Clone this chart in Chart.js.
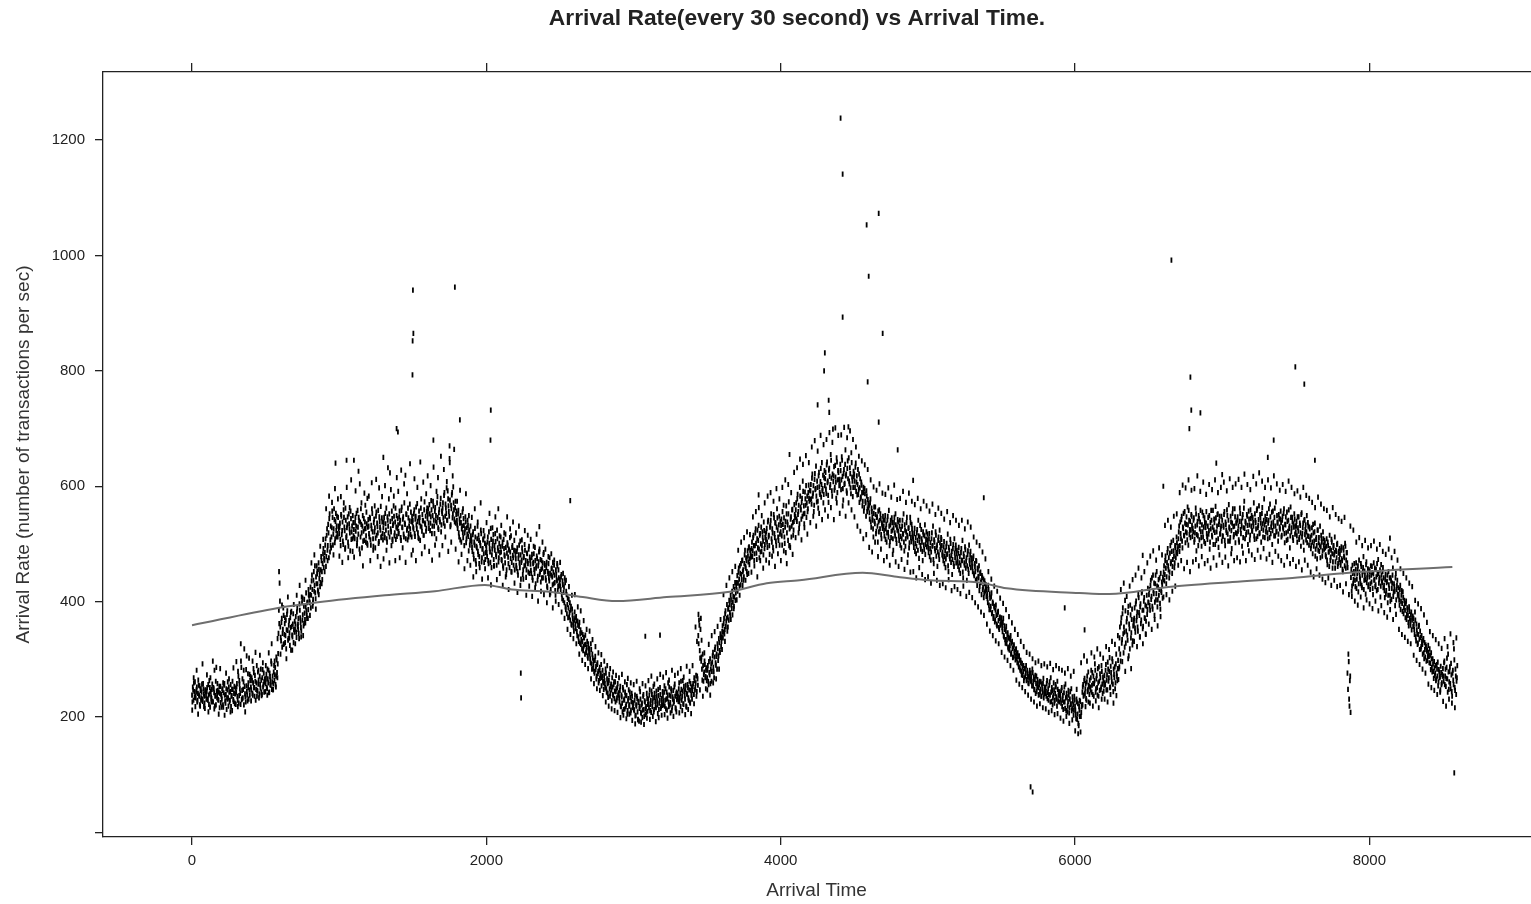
<!DOCTYPE html>
<html>
<head>
<meta charset="utf-8">
<script src="https://cdn.jsdelivr.net/npm/chart.js@4.4.1/dist/chart.umd.min.js"></script>
<style>
html,body{margin:0;padding:0;background:#fff;overflow:hidden}
#wrap{width:1536px;height:904px;position:relative}
canvas{display:block}
</style>
</head>
<body>
<div id="wrap"><canvas id="c"></canvas></div>
<script>
const chartTitle = 'Arrival Rate(every 30 second) vs Arrival Time.';
const xAxisTitle = 'Arrival Time';
const yAxisTitle = 'Arrival Rate (number of transactions per sec)';
const xTickValues = [0, 2000, 4000, 6000, 8000];
const yTickValues = [0, 200, 400, 600, 800, 1000, 1200];

// arrival rate samples, one every 5 time units (20 per row = 100 time units)
const sampleStep = 5;
const ratesStartA = 0;    // first series of samples starts at time 0
const ratesStartB = 2.5;  // second series of samples starts at time 2.5
const arrivalRatesA = [
/*0*/ 238,252,229,244,261,233,247,226,241,255,236,219,249,243,231,258,240,224,246,237,
/*100*/ 245,231,256,222,240,268,235,248,227,251,242,219,237,286,233,246,229,253,241,225,
/*200*/ 236,249,221,242,258,228,239,213,247,233,252,226,244,218,237,262,230,241,224,250,
/*300*/ 243,258,229,271,237,249,222,286,246,233,261,318,240,226,254,238,275,231,247,263,
/*400*/ 252,268,241,259,277,236,262,248,289,245,257,233,271,250,264,239,282,256,243,266,
/*500*/ 258,274,249,266,281,243,270,255,292,261,247,278,263,286,252,299,268,310,385,432,
/*600*/ 356,332,371,345,389,327,362,341,318,378,350,336,367,324,355,383,342,361,329,347,
/*700*/ 352,374,338,389,361,345,396,372,355,408,368,341,392,380,363,415,376,399,386,410,
/*800*/ 398,425,411,446,392,437,418,462,405,431,448,420,467,440,426,455,471,438,483,459,
/*900*/ 472,498,461,515,489,534,476,552,507,493,528,546,517,561,502,539,523,548,512,531,
/*1000*/ 518,536,497,548,523,505,559,529,491,541,514,533,503,552,526,488,544,521,509,537,
/*1100*/ 525,509,546,531,497,558,517,540,604,512,534,493,549,522,506,538,527,555,501,529,
/*1200*/ 531,512,544,498,526,553,509,537,521,493,548,515,530,558,504,539,524,511,545,518,
/*1300*/ 528,546,511,535,562,503,541,519,552,623,526,497,544,532,566,514,538,508,549,527,
/*1400*/ 533,518,557,541,506,564,528,547,512,536,619,552,524,507,545,531,569,516,539,548,
/*1500*/ 541,526,559,513,548,533,570,519,545,537,506,562,529,551,540,515,573,534,522,556,
/*1600*/ 544,561,527,552,536,575,518,549,566,531,557,540,509,571,546,525,560,538,579,533,
/*1700*/ 553,571,536,589,548,562,597,541,578,556,648,530,567,585,545,599,559,538,574,551,
/*1800*/ 541,527,558,512,536,549,503,531,520,544,497,526,538,509,517,532,488,522,506,514,
/*1900*/ 503,487,521,474,498,512,465,493,531,482,506,459,497,518,476,492,509,468,501,485,
/*2000*/ 494,478,512,466,501,486,527,459,491,505,473,497,518,482,463,509,488,476,514,495,
/*2100*/ 486,471,503,458,492,479,517,447,484,498,466,489,511,475,452,494,480,463,506,488,
/*2200*/ 474,458,493,446,481,467,505,439,472,486,455,478,499,463,442,484,470,451,496,477,
/*2300*/ 465,449,482,437,468,456,494,431,462,475,444,469,487,452,434,471,458,441,485,466,
/*2400*/ 452,437,468,424,449,441,476,415,446,458,429,451,463,433,411,447,436,419,455,428,
/*2500*/ 438,421,447,405,429,416,398,433,386,412,395,372,404,381,368,392,359,377,364,349,
/*2600*/ 382,361,374,348,366,339,357,328,351,334,318,343,322,337,309,326,315,331,302,319,
/*2700*/ 318,301,327,292,309,284,298,276,305,288,271,294,279,263,286,272,291,268,281,259,
/*2800*/ 272,258,283,249,266,241,259,274,236,253,247,268,239,256,232,261,244,229,251,238,
/*2900*/ 241,226,253,218,235,209,247,229,214,238,222,256,211,232,219,243,207,227,236,216,
/*3000*/ 224,211,238,203,219,232,196,227,215,244,208,221,199,236,213,228,204,218,241,210,
/*3100*/ 231,216,247,222,208,239,226,253,213,234,219,245,228,206,237,224,251,215,232,220,
/*3200*/ 236,221,254,229,214,243,232,259,218,238,225,249,211,235,246,227,257,216,240,230,
/*3300*/ 241,227,259,233,218,248,236,263,222,244,231,255,217,239,251,229,262,224,246,252,
/*3400*/ 246,258,239,263,251,272,244,266,341,368,315,352,297,283,309,262,278,291,270,285,
/*3500*/ 268,289,256,277,301,283,262,295,312,278,304,321,290,309,327,298,336,315,344,322,
/*3600*/ 339,358,347,371,352,384,366,395,373,389,402,381,411,394,418,399,426,408,433,415,
/*3700*/ 421,445,432,458,427,449,466,438,472,455,443,481,461,476,452,488,469,495,474,483,
/*3800*/ 479,503,488,515,471,497,526,484,509,493,532,476,518,500,487,521,505,538,492,511,
/*3900*/ 508,527,494,541,515,482,533,552,503,519,488,545,511,536,497,561,524,506,548,517,
/*4000*/ 521,543,498,534,567,512,529,485,552,538,506,573,526,494,547,531,560,515,539,551,
/*4100*/ 548,571,539,586,556,527,598,564,543,579,609,552,535,590,567,546,583,561,602,574,
/*4200*/ 577,603,569,621,588,556,612,594,635,573,598,562,624,589,608,581,641,596,571,615,
/*4300*/ 601,624,587,642,609,572,631,598,655,614,583,699,618,593,636,607,649,589,627,611,
/*4400*/ 612,638,594,651,617,576,629,605,663,621,588,644,703,609,632,597,658,616,582,626,
/*4500*/ 621,598,640,607,585,629,594,572,613,581,602,566,589,557,596,574,548,583,561,570,
/*4600*/ 567,543,578,529,556,541,512,564,535,551,522,547,503,538,559,526,544,509,533,548,
/*4700*/ 531,514,549,526,503,541,520,558,497,533,511,545,524,489,537,519,552,508,529,542,
/*4800*/ 522,506,541,513,493,531,518,552,488,524,509,537,515,481,528,502,546,511,534,519,
/*4900*/ 509,494,527,501,483,519,506,541,475,512,497,525,503,471,516,490,533,499,521,507,
/*5000*/ 501,485,518,492,472,509,496,531,466,503,488,515,494,461,506,481,524,490,511,497,
/*5100*/ 486,471,504,478,459,495,482,517,452,489,474,501,480,447,492,466,509,476,498,483,
/*5200*/ 476,461,494,467,449,485,472,506,441,478,463,490,470,437,482,456,498,465,487,473,
/*5300*/ 468,452,479,445,461,437,470,428,455,441,419,449,433,412,442,425,407,436,418,429,
/*5400*/ 421,405,428,394,413,386,408,379,399,371,392,365,385,376,358,381,367,352,373,361,
/*5500*/ 372,355,364,341,358,334,349,327,343,321,338,316,333,309,328,319,304,325,312,299,
/*5600*/ 318,301,311,292,306,285,298,279,293,272,289,268,284,276,263,281,270,258,274,266,
/*5700*/ 276,261,283,254,269,247,272,258,244,265,251,239,262,248,236,257,243,267,240,252,
/*5800*/ 251,236,263,242,229,255,238,268,227,246,233,259,224,241,252,231,262,228,244,237,
/*5900*/ 239,224,251,229,213,242,226,257,211,235,219,246,207,231,222,249,214,228,203,236,
/*6000*/ 219,204,231,196,223,185,212,227,201,218,243,256,238,267,249,232,261,244,278,253,
/*6100*/ 264,247,281,255,239,271,258,292,243,266,251,284,236,262,275,248,289,257,269,245,
/*6200*/ 272,256,291,264,247,283,268,303,252,277,261,296,244,274,287,259,309,271,284,265,
/*6300*/ 318,356,297,372,334,389,311,347,402,328,365,342,381,306,353,394,337,369,325,358,
/*6400*/ 362,389,347,401,374,356,412,381,339,396,368,417,353,385,407,371,344,392,378,423,
/*6500*/ 398,421,385,437,409,392,446,414,376,431,403,452,391,425,411,441,387,419,434,406,
/*6600*/ 438,462,447,479,431,468,492,455,441,484,466,503,449,473,488,459,497,476,512,483,
/*6700*/ 496,521,487,538,509,548,493,527,515,556,502,534,519,564,498,541,525,511,551,532,
/*6800*/ 527,541,503,519,562,488,533,514,549,507,538,521,496,555,512,529,545,501,536,518,
/*6900*/ 508,546,523,491,537,558,515,529,499,543,520,565,506,531,552,494,539,517,527,548,
/*7000*/ 541,513,529,556,497,534,520,549,505,568,526,511,538,492,553,530,516,561,502,536,
/*7100*/ 518,547,531,503,562,525,539,496,551,528,574,509,536,520,548,499,557,533,515,544,
/*7200*/ 549,522,537,571,508,541,526,558,513,532,566,519,545,503,553,535,524,578,511,539,
/*7300*/ 528,553,509,541,525,569,518,536,499,557,531,546,514,573,522,538,505,551,529,543,
/*7400*/ 537,515,548,526,561,502,533,519,555,508,541,527,493,564,521,546,511,535,552,517,
/*7500*/ 521,539,503,528,547,511,532,496,554,518,536,489,542,525,507,549,514,531,498,526,
/*7600*/ 512,497,528,483,519,505,536,491,511,474,524,502,487,531,495,509,479,521,498,506,
/*7700*/ 493,478,509,464,497,486,515,471,489,503,458,494,481,512,469,487,499,461,484,473,
/*7800*/ 482,463,495,471,452,489,476,501,458,485,467,248,296,219,271,442,418,463,431,452,
/*7900*/ 448,426,467,439,455,417,472,443,431,461,424,452,478,437,446,413,469,441,457,429,
/*8000*/ 443,421,462,434,450,412,467,438,426,456,419,447,473,432,441,408,464,436,452,424,
/*8100*/ 428,407,447,419,435,398,452,423,411,441,404,432,458,417,426,393,449,421,437,410,
/*8200*/ 412,394,428,401,419,383,407,389,396,372,401,378,386,364,391,371,359,382,368,375,
/*8300*/ 371,352,382,339,361,344,328,357,335,349,318,341,326,333,311,329,304,322,314,298,
/*8400*/ 324,305,318,293,311,286,301,279,296,272,289,266,283,295,261,278,270,288,256,274,
/*8500*/ 284,262,297,271,253,286,266,309,248,279,258,293,244,276,264,318,251,283,239,268
];

const arrivalRatesB = [
/*2.5*/ 226,247,259,234,218,243,252,229,264,238,221,246,233,257,227,249,236,215,244,231,
/*102*/ 251,229,238,263,217,244,232,257,226,249,281,236,221,245,258,230,243,216,253,239,
/*202*/ 231,246,217,255,238,224,249,233,261,219,243,229,256,236,211,248,227,253,240,222,
/*302*/ 252,236,279,224,257,241,297,230,266,248,221,253,235,282,244,228,259,302,238,270,
/*402*/ 247,263,238,284,251,272,229,259,246,278,264,240,256,283,237,268,252,276,261,244,
/*502*/ 266,251,283,259,242,276,264,297,248,271,258,289,273,256,304,277,292,345,362,401,
/*602*/ 338,364,321,352,376,343,329,368,351,384,333,359,346,372,316,357,339,379,352,366,
/*702*/ 361,347,382,357,371,336,385,364,349,398,377,358,404,369,391,384,398,371,412,401,
/*802*/ 412,389,436,421,404,452,428,415,443,462,431,417,456,447,433,478,452,466,492,475,
/*902*/ 485,509,478,526,497,519,544,486,531,512,557,498,526,542,509,553,531,518,546,527,
/*1002*/ 529,508,551,516,538,499,546,523,562,511,528,547,496,535,519,557,508,531,549,514,
/*1102*/ 511,537,522,553,508,529,546,491,538,561,519,531,505,544,526,567,514,535,498,542,
/*1202*/ 518,546,507,532,561,521,496,543,528,510,555,536,519,501,547,529,565,513,538,507,
/*1302*/ 537,516,553,524,509,547,531,578,512,539,521,557,505,535,548,519,562,529,513,544,
/*1402*/ 522,547,536,511,558,529,543,517,571,534,509,551,527,562,518,540,526,555,512,537,
/*1502*/ 529,552,518,543,564,526,539,511,557,546,531,578,522,541,515,559,536,548,527,562,
/*1602*/ 552,536,568,523,547,559,531,574,541,518,563,549,537,582,528,554,542,569,521,557,
/*1702*/ 562,545,584,531,569,553,541,592,566,548,576,533,561,589,552,571,543,563,536,557,
/*1802*/ 533,552,519,543,507,537,526,555,511,532,519,547,502,528,541,513,524,498,531,509,
/*1902*/ 494,516,482,503,527,471,496,509,487,515,478,502,524,469,491,507,483,514,473,498,
/*2002*/ 485,503,471,521,492,468,508,481,497,516,462,489,504,478,524,493,469,501,485,512,
/*2102*/ 473,496,462,508,481,467,494,455,502,477,491,459,486,514,468,497,476,489,455,481,
/*2202*/ 463,487,452,475,498,459,481,468,493,447,476,462,489,471,455,483,466,491,449,472,
/*2302*/ 454,476,442,466,483,449,471,458,479,437,462,486,447,473,456,441,467,482,451,463,
/*2402*/ 441,459,427,452,466,436,449,421,457,443,468,431,446,419,455,438,462,426,441,433,
/*2502*/ 427,443,412,436,402,425,441,391,418,379,406,389,373,398,385,361,387,371,356,368,
/*2602*/ 372,353,367,341,359,331,364,344,326,346,331,315,338,325,342,312,321,306,327,311,
/*2702*/ 309,294,317,283,302,291,279,298,282,266,291,275,259,281,267,276,254,271,262,248,
/*2802*/ 263,251,276,243,258,234,264,249,241,257,228,252,237,261,245,226,249,233,258,242,
/*2902*/ 233,246,219,238,224,251,213,231,243,218,237,205,228,247,221,234,212,241,225,219,
/*3002*/ 213,229,202,221,236,209,225,193,218,231,206,224,212,239,201,226,215,207,232,222,
/*3102*/ 223,238,211,229,245,218,233,209,241,227,216,236,221,248,213,229,239,218,226,244,
/*3202*/ 228,243,219,249,231,212,238,226,252,221,236,245,217,231,224,252,236,214,243,233,
/*3302*/ 235,249,226,241,262,229,245,223,253,237,247,219,241,256,233,247,226,258,238,231,
/*3402*/ 253,239,268,247,259,236,271,255,327,359,302,371,333,264,289,274,297,268,281,263,
/*3502*/ 281,262,296,273,258,292,279,306,286,268,317,294,305,283,319,306,329,312,338,331,
/*3602*/ 348,337,362,344,379,357,371,349,387,368,395,376,403,388,377,409,392,421,402,428,
/*3702*/ 433,418,451,439,462,429,447,471,452,437,466,489,458,471,447,479,493,464,489,477,
/*3802*/ 492,478,511,497,483,519,501,473,524,506,491,515,486,529,497,512,481,523,499,518,
/*3902*/ 521,503,538,512,497,529,541,509,526,494,551,518,537,505,529,545,512,533,498,539,
/*4002*/ 532,514,556,523,545,501,539,566,519,533,552,497,528,543,512,559,537,524,568,546,
/*4102*/ 559,543,578,551,567,535,583,559,572,548,591,566,553,578,601,571,556,589,579,593,
/*4202*/ 592,578,614,583,601,567,622,596,583,609,574,618,599,586,631,603,592,619,586,627,
/*4302*/ 613,595,637,606,584,628,617,603,645,592,621,608,634,598,616,579,642,611,624,601,
/*4402*/ 603,627,611,645,596,622,603,638,618,592,631,613,649,604,622,587,641,609,598,617,
/*4502*/ 609,633,591,618,603,586,621,597,578,607,589,574,598,563,587,571,592,556,577,563,
/*4602*/ 554,571,538,562,547,526,553,539,564,518,546,531,557,521,541,552,516,536,527,541,
/*4702*/ 523,541,508,534,519,548,512,531,504,541,522,537,509,528,546,514,533,501,524,538,
/*4802*/ 514,531,498,525,509,541,517,503,533,496,521,546,512,527,493,518,537,504,526,512,
/*4902*/ 502,518,487,511,496,525,489,514,503,532,491,509,487,521,498,514,482,508,495,517,
/*5002*/ 493,509,478,502,486,519,497,473,507,492,521,479,498,486,512,473,502,494,508,481,
/*5102*/ 479,495,466,488,474,501,483,462,494,479,508,468,487,473,499,461,484,492,467,489,
/*5202*/ 469,484,455,478,463,492,471,451,483,467,495,458,476,462,488,449,472,481,459,476,
/*5302*/ 461,475,448,466,452,471,439,458,444,462,427,451,436,445,421,439,415,431,422,409,
/*5402*/ 413,398,421,386,406,392,415,381,397,374,389,368,394,361,378,383,355,371,359,366,
/*5502*/ 363,348,371,339,352,328,357,334,346,318,336,324,341,311,331,303,322,314,306,317,
/*5602*/ 309,294,305,287,299,281,294,273,287,279,263,284,271,289,265,276,259,268,281,262,
/*5702*/ 269,254,277,262,248,265,241,271,253,259,238,256,244,261,236,249,258,233,247,241,
/*5802*/ 244,258,232,249,239,261,226,243,251,221,238,247,229,256,235,219,248,238,226,243,
/*5902*/ 231,246,218,237,226,252,215,233,241,209,227,238,216,244,223,211,235,221,212,229,
/*6002*/ 212,197,226,205,189,218,201,174,208,221,252,236,263,241,258,229,271,247,255,239,
/*6102*/ 252,268,243,277,258,236,263,281,249,272,238,259,287,246,268,252,279,241,263,255,
/*6202*/ 259,281,247,273,295,262,279,251,288,269,301,257,283,268,249,292,276,263,298,284,
/*6302*/ 337,309,363,328,379,344,356,321,384,349,371,333,392,361,318,377,346,387,332,368,
/*6402*/ 371,354,396,367,382,349,407,376,391,362,415,385,357,401,372,394,366,411,386,399,
/*6502*/ 412,393,428,404,441,387,419,432,399,446,414,427,403,438,421,397,449,416,429,442,
/*6602*/ 451,436,471,458,443,485,462,476,451,497,469,487,461,506,479,467,494,485,502,491,
/*6702*/ 509,531,497,518,542,505,529,553,514,536,521,547,507,533,558,516,539,524,548,513,
/*6802*/ 521,545,508,531,552,516,539,497,544,526,558,511,533,521,549,504,537,528,556,513,
/*6902*/ 531,517,549,503,526,541,512,558,524,537,499,545,521,551,509,534,548,518,531,505,
/*7002*/ 514,532,551,506,538,524,559,517,541,529,505,548,523,536,561,512,531,547,519,538,
/*7102*/ 541,522,507,539,553,518,531,545,511,562,527,539,516,551,532,521,543,507,559,531,
/*7202*/ 523,546,531,514,552,537,509,561,528,542,518,551,536,527,563,512,541,533,548,521,
/*7302*/ 542,519,536,561,511,547,529,555,523,538,514,562,531,521,549,536,517,544,526,557,
/*7402*/ 512,541,529,553,518,534,547,506,539,522,559,531,514,546,528,538,506,529,543,531,
/*7502*/ 531,514,547,522,508,536,519,551,512,528,503,541,516,533,521,502,537,513,529,507,
/*7602*/ 492,515,503,534,496,521,479,508,497,524,489,511,498,476,515,503,488,509,491,502,
/*7702*/ 481,496,472,503,486,461,492,477,508,483,469,497,485,458,489,476,501,466,487,492,
/*7802*/ 468,489,474,456,493,479,462,496,472,485,459,309,231,263,208,456,427,449,438,466,
/*7902*/ 437,456,423,449,462,431,451,439,466,428,446,459,421,453,438,464,433,447,426,455,
/*8002*/ 452,431,446,461,423,448,437,458,429,443,466,421,449,438,455,427,446,433,459,441,
/*8102*/ 419,438,413,433,446,411,429,441,401,436,423,446,409,431,418,441,403,428,413,424,
/*8202*/ 403,421,386,411,397,417,379,402,385,397,369,389,376,358,383,367,377,351,372,357,
/*8302*/ 361,343,368,332,351,326,343,359,317,338,322,331,309,336,301,317,325,297,316,306,
/*8402*/ 312,294,307,282,301,278,292,267,285,276,263,291,271,254,282,268,247,277,259,271,
/*8502*/ 271,294,256,283,267,302,243,278,261,287,249,273,236,281,256,299,246,271,262,289
];

// looser samples around the band edges, one every 10 time units starting at 1.25
const edgeStep = 10;
const ratesStartC = 1.25;
const arrivalRatesC = [
/*0*/ 212,268,236,281,205,254,229,292,218,247,
/*100*/ 273,209,251,226,297,214,262,238,205,284,
/*200*/ 217,259,203,276,231,266,209,248,285,223,
/*300*/ 296,218,263,327,232,281,209,306,251,274,
/*400*/ 228,297,251,312,236,281,307,243,294,261,
/*500*/ 289,238,311,256,327,248,297,271,336,452,
/*600*/ 309,394,326,372,301,408,337,381,316,395,
/*700*/ 327,411,352,428,339,406,362,437,371,421,
/*800*/ 376,467,398,481,387,453,412,496,431,508,
/*900*/ 452,561,471,583,497,572,481,596,512,578,
/*1000*/ 479,582,468,571,493,598,476,563,611,487,
/*1100*/ 477,592,501,626,483,571,462,588,503,579,
/*1200*/ 583,471,606,489,566,612,478,597,461,582,
/*1300*/ 474,601,489,632,467,594,508,583,471,615,
/*1400*/ 591,476,628,493,604,468,587,512,639,481,
/*1500*/ 489,613,471,598,509,642,483,607,495,587,
/*1600*/ 618,487,601,472,633,498,591,615,481,652,
/*1700*/ 497,629,512,608,487,641,503,618,664,491,
/*1800*/ 574,469,593,482,561,457,587,471,549,463,
/*1900*/ 546,443,561,452,538,466,571,439,523,457,
/*2000*/ 537,441,553,429,528,462,547,438,561,449,
/*2100*/ 532,428,519,443,547,421,526,451,538,432,
/*2200*/ 519,416,531,428,507,439,523,411,515,427,
/*2300*/ 508,409,496,424,517,401,491,418,503,412,
/*2400*/ 491,398,478,412,483,389,472,401,466,395,
/*2500*/ 468,382,449,371,437,352,426,343,411,336,
/*2600*/ 412,327,391,309,384,298,367,291,352,284,
/*2700*/ 349,266,334,258,322,249,311,246,308,237,
/*2800*/ 297,226,289,219,284,214,278,211,272,208,
/*2900*/ 268,199,274,203,261,197,267,205,259,194,
/*3000*/ 256,188,262,195,249,191,258,187,254,198,
/*3100*/ 263,196,271,201,257,192,266,199,274,203,
/*3200*/ 269,204,277,198,264,207,281,201,272,209,
/*3300*/ 276,207,284,211,269,204,288,213,279,206,
/*3400*/ 289,223,356,331,378,247,304,236,311,249,
/*3500*/ 247,326,238,341,259,348,266,357,283,369,
/*3600*/ 317,412,331,428,356,441,369,452,388,461,
/*3700*/ 403,489,411,503,428,511,437,521,449,516,
/*3800*/ 451,547,462,556,443,563,471,549,458,571,
/*3900*/ 472,583,467,589,479,574,461,596,483,578,
/*4000*/ 471,598,488,611,466,603,497,589,482,624,
/*4100*/ 511,632,519,647,507,638,528,653,517,641,
/*4200*/ 537,668,548,679,531,661,553,688,542,672,
/*4300*/ 559,681,548,693,563,676,542,701,571,688,
/*4400*/ 553,689,566,702,548,684,571,696,559,681,
/*4500*/ 547,668,531,652,522,644,509,637,516,629,
/*4600*/ 494,611,486,599,503,593,478,604,491,588,
/*4700*/ 471,586,478,597,463,581,482,602,469,577,
/*4800*/ 461,579,473,591,456,572,468,588,451,574,
/*4900*/ 452,568,441,579,459,561,447,574,438,566,
/*5000*/ 443,557,432,569,449,551,437,562,428,553,
/*5100*/ 431,543,424,556,438,537,419,549,426,541,
/*5200*/ 421,532,414,541,427,526,409,538,416,529,
/*5300*/ 407,512,398,503,391,497,382,486,376,474,
/*5400*/ 361,452,349,439,341,427,332,418,327,406,
/*5500*/ 312,397,304,386,298,374,289,363,281,352,
/*5600*/ 264,343,257,331,251,322,244,312,238,309,
/*5700*/ 231,301,226,294,219,297,223,289,216,292,
/*5800*/ 214,287,208,293,211,282,204,289,206,284,
/*5900*/ 198,281,193,276,201,284,189,271,195,279,
/*6000*/ 176,248,171,229,294,221,306,218,297,226,
/*6100*/ 224,311,219,304,228,318,216,309,231,302,
/*6200*/ 231,322,226,317,239,331,224,326,237,341,
/*6300*/ 287,421,296,432,279,409,301,427,284,438,
/*6400*/ 331,446,322,458,339,441,327,452,343,467,
/*6500*/ 361,479,352,488,369,472,358,493,374,481,
/*6600*/ 408,532,412,541,403,529,418,548,427,552,
/*6700*/ 463,589,471,602,457,597,468,611,452,593,
/*6800*/ 469,596,473,618,462,591,478,607,466,586,
/*6900*/ 471,603,458,594,476,611,463,589,481,598,
/*7000*/ 468,607,477,592,462,613,483,598,471,604,
/*7100*/ 476,612,469,598,484,621,471,603,488,594,
/*7200*/ 481,617,473,604,489,623,477,609,492,598,
/*7300*/ 474,611,482,597,468,618,487,604,479,593,
/*7400*/ 471,603,463,591,478,609,466,598,473,587,
/*7500*/ 461,592,469,581,455,598,472,584,463,579,
/*7600*/ 451,572,443,563,457,581,446,569,439,561,
/*7700*/ 433,558,441,547,428,563,437,551,426,544,
/*7800*/ 428,539,417,546,431,276,412,531,409,524,
/*7900*/ 401,503,394,511,408,497,389,506,403,493,
/*8000*/ 396,497,388,505,401,491,384,499,393,487,
/*8100*/ 381,482,373,491,386,476,369,487,378,472,
/*8200*/ 352,457,343,449,338,441,331,432,327,426,
/*8300*/ 307,402,298,396,291,388,283,377,276,364,
/*8400*/ 257,348,251,341,246,334,239,327,243,319,
/*8500*/ 227,336,219,322,231,344,224,329,216,337
];

const outlierPoints = [
  [1501,940],[1504,865],[1498,793],[1499,852],[1786,945],[2030,732],[2028,680],[1399,694],
  [2234,276],[2236,233],[4407,1238],[4421,1141],[4584,1053],[4666,1073],[4598,964],[4421,893],
  [4693,865],[4591,781],[4300,831],[4295,800],[4666,711],[4795,663],[6655,992],[6784,789],
  [7497,807],[7558,777],[5698,79],[5712,70],[8577,103],[6777,700],[6852,727],[6790,732],
  [4251,741],[4326,749],[4330,728],[1100,645],[1300,650],[1640,680],[1820,715],[1750,670],
  [2360,530],[2570,575],[4900,610],[7350,680],[7310,650],[7630,645],[6960,640],[1390,700],
  [975,640],[1050,645],[3850,585],[4060,655],[5380,580],[6600,600],[8140,510],[7000,620],
  [3080,340],[3180,342],[5930,389],[6065,351],[6460,480]
];

// smoothed trend curve
const smoothTime = [0,584,856,1311,1650,1990,2173,2431,2655,2886,3226,3654,3905,4129,4557,4788,5012,5351,5535,6031,6234,6621,7070,7477,7864,8564];
const smoothRate = [359,389,399,411,418,429,421,417,408,401,408,417,432,437,450,443,437,433,423,415,413,425,434,441,450,460];

const scatterData = arrivalRatesA.map((r, i) => ({x: ratesStartA + i * sampleStep, y: r}))
  .concat(arrivalRatesB.map((r, i) => ({x: ratesStartB + i * sampleStep, y: r})))
  .concat(arrivalRatesC.map((r, i) => ({x: ratesStartC + i * edgeStep, y: r})))
  .concat(outlierPoints.map(p => ({x: p[0], y: p[1]})));
const smoothData = smoothTime.map((t, i) => ({x: t, y: smoothRate[i]}));

const FONT = '"Liberation Sans", Arial, Helvetica, sans-serif';
const AXIS_COLOR = '#222';

const setTicks = vals => scale => { scale.ticks = vals.map(v => ({value: v})); };

const titlePlugin = {
  id: 'mainTitle',
  afterDraw(chart) {
    const ctx = chart.ctx;
    ctx.save();
    ctx.font = 'bold 22.8px ' + FONT;
    ctx.fillStyle = '#222';
    ctx.textAlign = 'center';
    ctx.textBaseline = 'middle';
    ctx.fillText(chartTitle, 797, 19);
    ctx.restore();
  }
};

new Chart(document.getElementById('c'), {
  type: 'scatter',
  data: {
    datasets: [
      {
        label: 'trend',
        data: smoothData,
        showLine: true,
        borderColor: '#6e6e6e',
        borderWidth: 2,
        pointRadius: 0,
        cubicInterpolationMode: 'monotone',
        fill: false,
        xAxisID: 'x',
        yAxisID: 'y'
      },
      {
        label: 'arrival rate',
        data: scatterData,
        pointStyle: 'line',
        rotation: 90,
        pointRadius: 2.6,
        borderWidth: 1.8,
        borderColor: '#000',
        backgroundColor: '#000',
        xAxisID: 'x',
        yAxisID: 'y'
      }
    ]
  },
  options: {
    responsive: true,
    maintainAspectRatio: false,
    animation: false,
    layout: {padding: 0},
    plugins: {
      legend: {display: false},
      tooltip: {enabled: false},
      title: {display: false}
    },
    scales: {
      x: {
        type: 'linear',
        position: 'bottom',
        min: -605,
        max: 9093,
        afterBuildTicks: setTicks(xTickValues),
        afterFit: s => { s.height = 67; },
        grid: {display: true, drawOnChartArea: false, drawTicks: true, tickLength: 8, color: AXIS_COLOR, lineWidth: 1.3},
        border: {display: true, color: AXIS_COLOR, width: 1.3},
        ticks: {color: '#222', font: {family: FONT, size: 15}, padding: 7, maxRotation: 0, autoSkip: false, callback: v => String(v)},
        title: {display: true, text: xAxisTitle, color: '#333', font: {family: FONT, size: 19}, padding: {top: 0, bottom: 2}}
      },
      x2: {
        type: 'linear',
        position: 'top',
        min: -605,
        max: 9093,
        afterBuildTicks: setTicks(xTickValues),
        afterFit: s => { s.height = 72; },
        grid: {display: true, drawOnChartArea: false, drawTicks: true, tickLength: 9, color: AXIS_COLOR, lineWidth: 1.3},
        border: {display: true, color: AXIS_COLOR, width: 1.3},
        ticks: {display: false}
      },
      y: {
        type: 'linear',
        position: 'left',
        min: -8,
        max: 1318,
        afterBuildTicks: setTicks(yTickValues),
        afterFit: s => { s.width = 103; },
        grid: {display: true, drawOnChartArea: false, drawTicks: true, tickLength: 8, color: AXIS_COLOR, lineWidth: 1.3},
        border: {display: true, color: AXIS_COLOR, width: 1.3},
        ticks: {color: '#222', font: {family: FONT, size: 15}, padding: 10, callback: v => (v === 0 ? '' : String(v))},
        title: {display: true, text: yAxisTitle, color: '#333', font: {family: FONT, size: 19}, padding: {top: 12, bottom: 0}}
      }
    }
  },
  plugins: [titlePlugin]
});
</script>
</body>
</html>
